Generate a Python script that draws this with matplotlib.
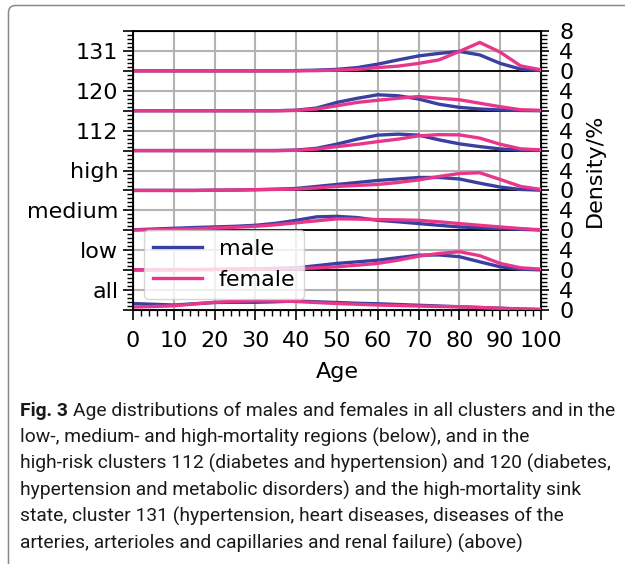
import numpy as np
import matplotlib.pyplot as plt
from matplotlib.patches import FancyBboxPatch
from matplotlib.transforms import IdentityTransform
from matplotlib.ticker import MultipleLocator, AutoMinorLocator

# age grid (years) and density (%) per group
ages = [0, 5, 10, 15, 20, 25, 30, 35, 40, 45, 50, 55, 60, 65, 70, 75, 80, 85, 90, 95, 100]
groups = ['all', 'low', 'medium', 'high', '112', '120', '131']

male_all    = [1.3, 1.15, 1.0, 1.25, 1.5, 1.55, 1.55, 1.65, 1.8, 1.65, 1.5, 1.35, 1.25, 1.1, 0.95, 0.8, 0.65, 0.5, 0.35, 0.2, 0.1]
female_all  = [0.6, 0.7, 0.85, 1.2, 1.55, 1.75, 1.85, 1.8, 1.7, 1.5, 1.3, 1.15, 1.0, 0.9, 0.8, 0.7, 0.65, 0.5, 0.35, 0.2, 0.1]
male_low    = [0.05, 0.05, 0.1, 0.1, 0.15, 0.2, 0.25, 0.35, 0.47, 0.9, 1.35, 1.67, 2.0, 2.5, 3.0, 3.05, 2.7, 1.67, 0.67, 0.2, 0.05]
female_low  = [0.05, 0.05, 0.08, 0.1, 0.1, 0.15, 0.18, 0.22, 0.27, 0.45, 0.67, 1.0, 1.35, 2.0, 2.8, 3.35, 3.7, 2.9, 1.35, 0.47, 0.2]
male_med    = [0.1, 0.25, 0.4, 0.55, 0.67, 0.8, 1.0, 1.4, 2.0, 2.7, 2.8, 2.55, 2.0, 1.7, 1.35, 1.0, 0.67, 0.5, 0.35, 0.2, 0.05]
female_med  = [0.05, 0.1, 0.2, 0.3, 0.45, 0.6, 0.8, 1.1, 1.5, 1.9, 2.3, 2.25, 2.15, 2.1, 2.0, 1.7, 1.35, 1.0, 0.67, 0.35, 0.1]
male_high   = [0, 0, 0, 0, 0.05, 0.08, 0.15, 0.25, 0.4, 0.8, 1.2, 1.6, 2.0, 2.3, 2.6, 2.6, 2.3, 1.45, 0.67, 0.2, 0.05]
female_high = [0, 0, 0, 0, 0.05, 0.08, 0.15, 0.2, 0.27, 0.5, 0.8, 1.0, 1.2, 1.6, 2.1, 2.8, 3.4, 3.55, 2.2, 0.8, 0.2]
male_112    = [0, 0, 0, 0, 0, 0, 0, 0, 0.1, 0.45, 1.3, 2.3, 3.1, 3.3, 3.1, 2.15, 1.35, 0.8, 0.33, 0.1, 0.05]
female_112  = [0, 0, 0, 0, 0, 0, 0, 0, 0.05, 0.3, 0.8, 1.25, 1.8, 2.3, 2.95, 3.2, 3.15, 2.5, 1.27, 0.35, 0.13]
male_120    = [0, 0, 0, 0, 0, 0, 0, 0, 0.1, 0.54, 1.67, 2.5, 3.2, 3.0, 2.35, 1.3, 0.67, 0.35, 0.15, 0.05, 0]
female_120  = [0, 0, 0, 0, 0, 0, 0, 0, 0.05, 0.35, 1.0, 1.67, 2.1, 2.5, 2.85, 2.5, 2.2, 1.5, 0.8, 0.2, 0.07]
male_131    = [0, 0, 0, 0, 0, 0, 0, 0, 0.05, 0.15, 0.3, 0.66, 1.35, 2.2, 3.0, 3.5, 3.9, 3.2, 1.5, 0.35, 0.05]
female_131  = [0, 0, 0, 0, 0, 0, 0, 0, 0, 0.05, 0.15, 0.3, 0.66, 0.95, 1.5, 2.2, 3.9, 5.7, 3.75, 1.0, 0.2]

males = [male_all, male_low, male_med, male_high, male_112, male_120, male_131]
females = [female_all, female_low, female_med, female_high, female_112, female_120, female_131]
right_labels = ['0', '4'] * 7 + ['8']

caption = ["Age distributions of males and females in all clusters and in the",
           "low-, medium- and high-mortality regions (below), and in the",
           "high-risk clusters 112 (diabetes and hypertension) and 120 (diabetes,",
           "hypertension and metabolic disorders) and the high-mortality sink",
           "state, cluster 131 (hypertension, heart diseases, diseases of the",
           "arteries, arterioles and capillaries and renal failure) (above)"]

blue = '#3a40a0'
pink = '#e8378a'
step = 8
fs = 16

W, H = 625, 564
fig = plt.figure(figsize=(W / 100, H / 100), dpi=100)

# the journal frame round the figure
frame = FancyBboxPatch((8.5, -30), 700, H - 5.5 + 30, boxstyle='round,pad=0,rounding_size=7',
                       transform=IdentityTransform(), fc='none', ec='#8a8a8a', lw=1.1)
fig.patches.append(frame)

ax = fig.add_axes([133 / W, (H - 310) / H, 408 / W, 279 / H])
ax.set_xlim(0, 100)
ax.set_ylim(0, step * 7)

for i in range(7):
    base = i * step
    ax.plot(ages, np.array(males[i]) + base, color=blue, lw=2.4, zorder=3,
            label='male' if i == 0 else None)
    ax.plot(ages, np.array(females[i]) + base, color=pink, lw=2.4, zorder=3,
            label='female' if i == 0 else None)
    if i > 0:
        ax.axhline(base, color='black', lw=1.3, zorder=2)

ax.set_xticks(range(0, 101, 10))
ax.xaxis.set_minor_locator(MultipleLocator(2))
ax.set_yticks(np.arange(0, step * 7 + 1, 4))
ax.set_yticklabels([groups[int(v) // step] if v % step == 4 else '' for v in np.arange(0, step * 7 + 1, 4)])
ax.yaxis.set_minor_locator(AutoMinorLocator(5))
ax.grid(True, color='#b3b3b3', lw=1.5, zorder=0)
ax.set_axisbelow(True)
ax.tick_params(axis='both', which='major', labelsize=fs, length=7, width=1.2, direction='out')
ax.tick_params(axis='both', which='minor', length=4, width=1.0, direction='out')
ax.tick_params(axis='x', which='major', pad=8)
ax.set_xlabel('Age', fontsize=fs, labelpad=8)
for s in ax.spines.values():
    s.set_linewidth(1.3)

ax2 = ax.twinx()
ax2.set_ylim(0, step * 7)
ax2.set_yticks(np.arange(0, step * 7 + 1, 4))
ax2.set_yticklabels(right_labels)
ax2.yaxis.set_minor_locator(AutoMinorLocator(5))
ax2.tick_params(axis='y', which='major', labelsize=fs, length=6, width=1.2, direction='out', pad=7)
ax2.tick_params(axis='y', which='minor', length=4, width=1.0, direction='out')
ax2.set_ylabel('Density/%', fontsize=fs, labelpad=8)

ax.legend(loc='lower left', fontsize=fs, handlelength=2.2, handletextpad=0.75,
          borderaxespad=0.5)

# caption
cap_font = 'Roboto'
cap_size = 13.9
y0 = H - 416
dy = 26.5
r = fig.canvas.get_renderer()
t = fig.text(20 / W, y0 / H, 'Fig. 3', fontsize=cap_size, family=cap_font, weight='bold',
             va='baseline', color='#1a1a1a')
bb = t.get_window_extent(r)
fig.text((bb.x1 + 5) / W, y0 / H, caption[0], fontsize=cap_size, family=cap_font,
         va='baseline', color='#1a1a1a')
for k, line in enumerate(caption[1:], start=1):
    fig.text(20 / W, (y0 - k * dy) / H, line, fontsize=cap_size, family=cap_font,
             va='baseline', color='#1a1a1a')

fig.savefig('out.png', dpi=100)
